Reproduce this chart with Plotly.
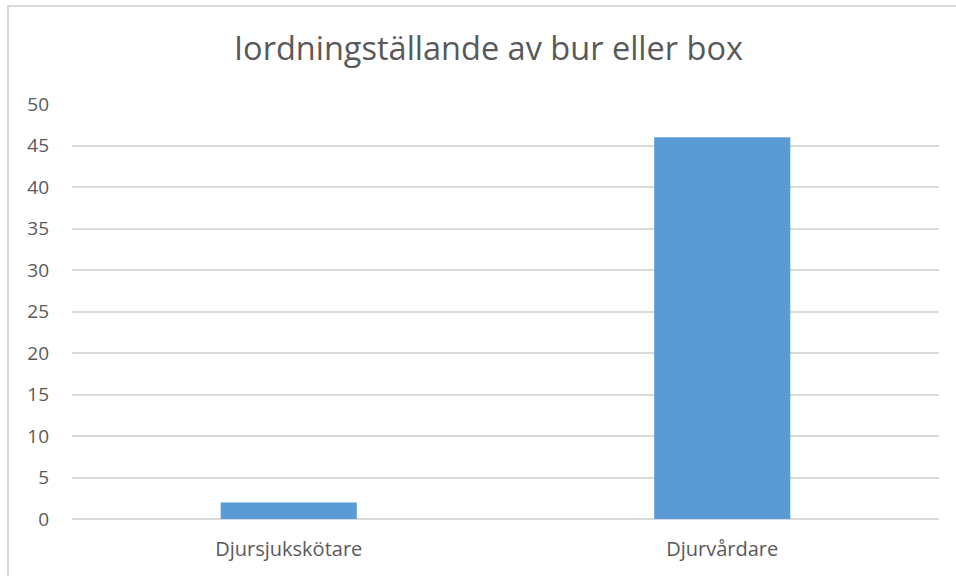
import plotly.graph_objects as go

title = "Iordningställande av bur eller box"
categories = ["Djursjukskötare", "Djurvårdare"]
values = [2, 46]
y_ticks = [0, 5, 10, 15, 20, 25, 30, 35, 40, 45, 50]

W, H = 956, 576
L, R, T, B = 72, 17, 104, 57
pw, ph = W - L - R, H - T - B

fig = go.Figure(go.Bar(
    x=categories, y=values,
    marker=dict(color="#5b9bd5", line=dict(width=0)),
    width=0.314,
))

fig.update_layout(
    width=W, height=H,
    margin=dict(l=L, r=R, t=T, b=B),
    paper_bgcolor="white", plot_bgcolor="white",
    font=dict(family="Open Sans, Liberation Sans, sans-serif", color="#595959", size=20),
    title=dict(text=title, xref="container", x=488.5 / W, xanchor="center",
               y=1 - 49 / H, yanchor="middle",
               font=dict(size=32.5, color="#595959")),
    showlegend=False,
    xaxis=dict(showgrid=False, showline=False, ticks="", tickfont=dict(size=20),
               ticklabelstandoff=16),
    yaxis=dict(range=[0, 50], tickvals=y_ticks, showgrid=True, gridcolor="#d9d9d9",
               gridwidth=1.5, zeroline=True, zerolinecolor="#d9d9d9", zerolinewidth=1.5,
               showline=False, ticks="", tickfont=dict(size=19), ticklabelstandoff=22),
    shapes=[dict(type="rect", xref="paper", yref="paper",
                 x0=(8 - L) / pw, x1=(W + 20 - L) / pw,
                 y0=-(B + 20) / ph, y1=1 + (T - 6) / ph,
                 line=dict(color="#d9d9d9", width=2), fillcolor="rgba(0,0,0,0)")],
)

fig.write_html("out.html", config={"displayModeBar": False},
               post_script="document.body.style.margin='0';")
